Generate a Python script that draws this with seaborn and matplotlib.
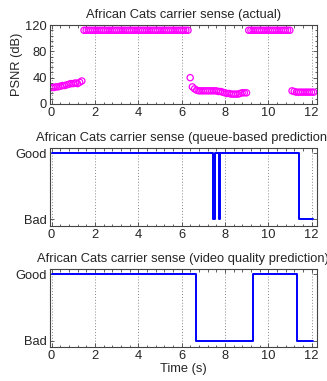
import numpy as np
import pandas as pd
import matplotlib
matplotlib.use("Agg")
import matplotlib.pyplot as plt
from matplotlib.ticker import AutoMinorLocator
import seaborn as sns

# ---------------- data ----------------
# PSNR (actual), sampled every 0.1 s from 0.0 to 12.1 s
psnr_time = np.round(np.arange(0.0, 12.15, 0.1), 2)
psnr_seg1 = [25, 25, 26, 26, 27, 28, 28, 29, 30, 31, 31, 32, 31, 33, 35]            # 0.0-1.4
psnr_seg2 = [112] * 49                                                          # 1.5-6.3
psnr_seg3 = [40, 26, 23, 21, 20, 20, 20, 20, 20, 20, 20, 20, 20, 19, 19, 18,
             17, 16, 16, 15, 15, 15, 15, 16, 17, 17, 17]                         # 6.4-9.0
psnr_seg4 = [112] * 20                                                          # 9.1-11.0
psnr_seg5 = [20, 19, 18, 18, 18, 18, 18, 18, 18, 18, 18]                         # 11.1-12.1
psnr_values = psnr_seg1 + psnr_seg2 + psnr_seg3 + psnr_seg4 + psnr_seg5

# queue-based prediction: state changes (1 = Good, 0 = Bad)
queue_time = [0.0, 7.44, 7.56, 7.72, 7.78, 11.40, 12.07]
queue_state = [1, 0, 1, 0, 1, 0, 0]

# video quality prediction: state changes
video_time = [0.0, 6.69, 9.30, 11.33, 12.07]
video_state = [1, 0, 1, 0, 0]

titles = ["African Cats carrier sense (actual)",
          "African Cats carrier sense (queue-based prediction)",
          "African Cats carrier sense (video quality prediction)"]
state_labels = ["Bad", "Good"]
x_ticks = [0, 2, 4, 6, 8, 10, 12]
psnr_ticks = [0, 40, 80, 120]

# ---------------- style ----------------
sns.set_style("ticks")
plt.rcParams['font.family'] = ['Liberation Sans', 'DejaVu Sans']
FS = 9.3
plt.rcParams['font.size'] = FS

W, H = 327, 381
fig = plt.figure(figsize=(W / 100, H / 100), dpi=100)

left = 50 / W
width = (316.5 - 50) / W
def ax_at(top_px, bottom_px):
    return fig.add_axes([left, 1 - bottom_px / H, width, (bottom_px - top_px) / H])

ax1 = ax_at(25, 104)
ax2 = ax_at(148, 226)
ax3 = ax_at(269, 347)

df_psnr = pd.DataFrame({"t": psnr_time, "psnr": psnr_values})
sns.scatterplot(data=df_psnr, x="t", y="psnr", ax=ax1, marker="o", s=20,
                facecolor="none", edgecolor="#ff00ff", linewidth=0.9, legend=False)

df_q = pd.DataFrame({"t": queue_time, "s": queue_state})
sns.lineplot(data=df_q, x="t", y="s", ax=ax2, color="#0000ff", linewidth=1.4,
             drawstyle="steps-post", estimator=None, sort=False, legend=False)

df_v = pd.DataFrame({"t": video_time, "s": video_state})
sns.lineplot(data=df_v, x="t", y="s", ax=ax3, color="#0000ff", linewidth=1.4,
             drawstyle="steps-post", estimator=None, sort=False, legend=False)

for i, ax in enumerate([ax1, ax2, ax3]):
    ax.set_xlim(-0.07, 12.23)
    ax.set_xticks(x_ticks)
    ax.xaxis.set_minor_locator(AutoMinorLocator(5))
    ax.tick_params(which="both", direction="in", top=True, right=True,
                   labelsize=FS, pad=2, color="#444444")
    ax.tick_params(which="major", length=3, width=0.6)
    ax.tick_params(which="minor", length=1.8, width=0.6)
    ax.grid(axis="x", which="major", linestyle=(0, (1, 2)), color="#888888", linewidth=0.7)
    ax.set_axisbelow(True)
    for sp in ax.spines.values():
        sp.set_color("#444444")
        sp.set_linewidth(0.8)
    ax.set_title(titles[i], fontsize=FS, pad=5)
    ax.set_xlabel("")
    ax.set_ylabel("")

ax1.set_ylim(0, 120)
ax1.set_yticks(psnr_ticks)
ax1.yaxis.set_minor_locator(AutoMinorLocator(5))
ax1.set_ylabel("PSNR (dB)", fontsize=FS, labelpad=2)

for ax, lo, hi in [(ax2, -0.106, 1.076), (ax3, -0.09, 1.075)]:
    ax.set_ylim(lo, hi)
    ax.set_yticks([0, 1])
    ax.set_yticklabels(state_labels)
    ax.yaxis.set_minor_locator(plt.NullLocator())

ax3.set_xlabel("Time (s)", fontsize=FS, labelpad=1)

fig.savefig("out.png", dpi=100)
